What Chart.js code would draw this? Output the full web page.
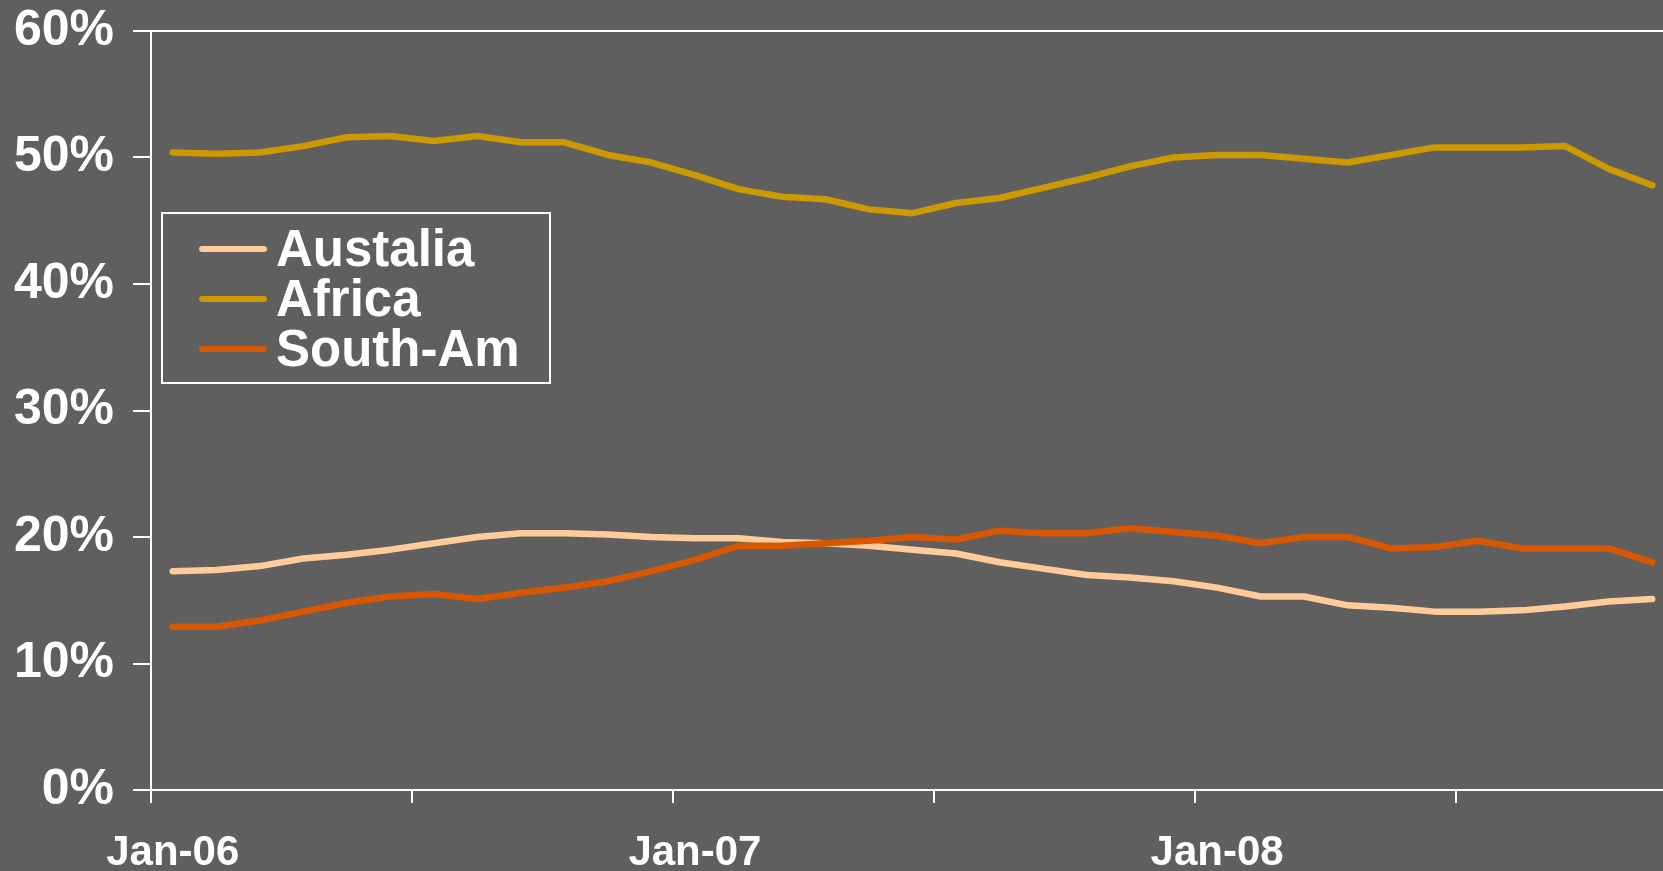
<!DOCTYPE html>
<html>
<head>
<meta charset="utf-8">
<title>Regional share</title>
<script src="https://cdn.jsdelivr.net/npm/chart.js@4.4.1/dist/chart.umd.min.js"></script>
<style>
  html, body { margin: 0; padding: 0; overflow: hidden; background: #5f5f5f; }
  canvas { display: block; }
</style>
</head>
<body>
<canvas id="shareChart" width="1674" height="871"></canvas>
<script>
const months = [
  "Jan-06", "Feb-06", "Mar-06", "Apr-06", "May-06", "Jun-06", "Jul-06", "Aug-06", "Sep-06", "Oct-06", "Nov-06", "Dec-06",
  "Jan-07", "Feb-07", "Mar-07", "Apr-07", "May-07", "Jun-07", "Jul-07", "Aug-07", "Sep-07", "Oct-07", "Nov-07", "Dec-07",
  "Jan-08", "Feb-08", "Mar-08", "Apr-08", "May-08", "Jun-08", "Jul-08", "Aug-08", "Sep-08", "Oct-08", "Nov-08"
];
const yearLabels = ["Jan-06", "Jan-07", "Jan-08"];
const yTicks = [0, 10, 20, 30, 40, 50, 60];

const australia = [17.3, 17.4, 17.7, 18.3, 18.6, 19.0, 19.5, 20.0, 20.3, 20.3,
                   20.2, 20.0, 19.9, 19.9, 19.6, 19.5, 19.3, 19.0, 18.7, 18.0,
                   17.5, 17.0, 16.8, 16.5, 16.0, 15.3, 15.3, 14.6, 14.4, 14.1,
                   14.1, 14.2, 14.5, 14.9, 15.1];
const africa = [50.4, 50.3, 50.4, 50.9, 51.6, 51.7, 51.3, 51.7, 51.2, 51.2,
                50.2, 49.6, 48.6, 47.5, 46.9, 46.7, 45.9, 45.6, 46.4, 46.8,
                47.6, 48.4, 49.3, 50.0, 50.2, 50.2, 49.9, 49.6, 50.2, 50.8,
                50.8, 50.8, 50.9, 49.1, 47.8];
const southAm = [12.9, 12.9, 13.4, 14.1, 14.8, 15.3, 15.5, 15.1, 15.6, 16.0,
                 16.5, 17.3, 18.2, 19.3, 19.3, 19.5, 19.7, 20.0, 19.8, 20.5,
                 20.3, 20.3, 20.7, 20.4, 20.1, 19.5, 20.0, 20.0, 19.1, 19.2,
                 19.7, 19.1, 19.1, 19.1, 18.0];

const FONT = "'Liberation Sans', Arial, sans-serif";
const WHITE = "#ffffff";
const NONE = "rgba(0,0,0,0)";

// legend with a box around it, sitting inside the plot
const boxLegend = {
  id: "boxLegend",
  afterDraw(chart) {
    const c = chart.ctx;
    const area = chart.chartArea;
    const x0 = area.left + 11;
    const y0 = area.top + 182;
    c.save();
    c.strokeStyle = WHITE;
    c.lineWidth = 2;
    c.strokeRect(x0, y0, 388, 170);
    chart.data.datasets.forEach((ds, i) => {
      const y = y0 + 36 + i * 50;
      c.strokeStyle = ds.borderColor;
      c.lineWidth = 6;
      c.lineCap = "round";
      c.beginPath();
      c.moveTo(x0 + 40, y);
      c.lineTo(x0 + 102, y);
      c.stroke();
      c.fillStyle = WHITE;
      c.font = "bold 51px " + FONT;
      c.textBaseline = "middle";
      c.textAlign = "left";
      c.fillText(ds.label, x0 + 114, y + 3);
    });
    c.restore();
  }
};

function line(label, data, color, order) {
  return {
    label: label,
    data: data,
    borderColor: color,
    backgroundColor: color,
    borderWidth: 6.5,
    pointRadius: 0,
    tension: 0,
    borderCapStyle: "round",
    borderJoinStyle: "round",
    order: order
  };
}

const ctx = document.getElementById("shareChart").getContext("2d");
const chart = new Chart(ctx, {
  type: "line",
  data: {
    labels: months,
    datasets: [
      line("Austalia", australia, "#FFCC99", 2),
      line("Africa", africa, "#CC9900", 1),
      line("South-Am", southAm, "#D95700", 0)
    ]
  },
  options: {
    responsive: false,
    animation: false,
    layout: { padding: { top: 31, right: 0, bottom: 0, left: 0 } },
    plugins: {
      legend: { display: false },
      tooltip: { enabled: false }
    },
    scales: {
      x: {
        offset: true,
        ticks: {
          autoSkip: false,
          maxRotation: 0,
          color: WHITE,
          padding: 25,
          font: { family: FONT, size: 42, weight: "bold" },
          callback: (v, i) => yearLabels.includes(months[i]) ? months[i] : ""
        },
        grid: {
          offset: true,
          drawOnChartArea: false,
          color: c => c.index % 6 === 0 ? WHITE : NONE,
          tickColor: c => c.index % 6 === 0 ? WHITE : NONE,
          lineWidth: 2,
          tickWidth: 2,
          tickLength: 13
        },
        border: { color: WHITE, width: 2 },
        afterFit: s => { s.height = 81; s.paddingLeft = 0; s.paddingRight = 0; }
      },
      y: {
        min: 0,
        max: 60,
        afterBuildTicks: s => { s.ticks = yTicks.map(v => ({ value: v })); },
        ticks: {
          color: WHITE,
          padding: 19,
          font: { family: FONT, size: 50, weight: "bold" },
          callback: v => v + "%"
        },
        grid: {
          color: c => (c.tick && c.tick.value === 60) ? WHITE : NONE,
          tickColor: WHITE,
          lineWidth: 2,
          tickWidth: 2,
          tickLength: 18
        },
        border: { color: WHITE, width: 2 },
        afterFit: s => { s.width = 151; s.paddingTop = 0; s.paddingBottom = 0; }
      }
    }
  },
  plugins: [boxLegend]
});
</script>
</body>
</html>
